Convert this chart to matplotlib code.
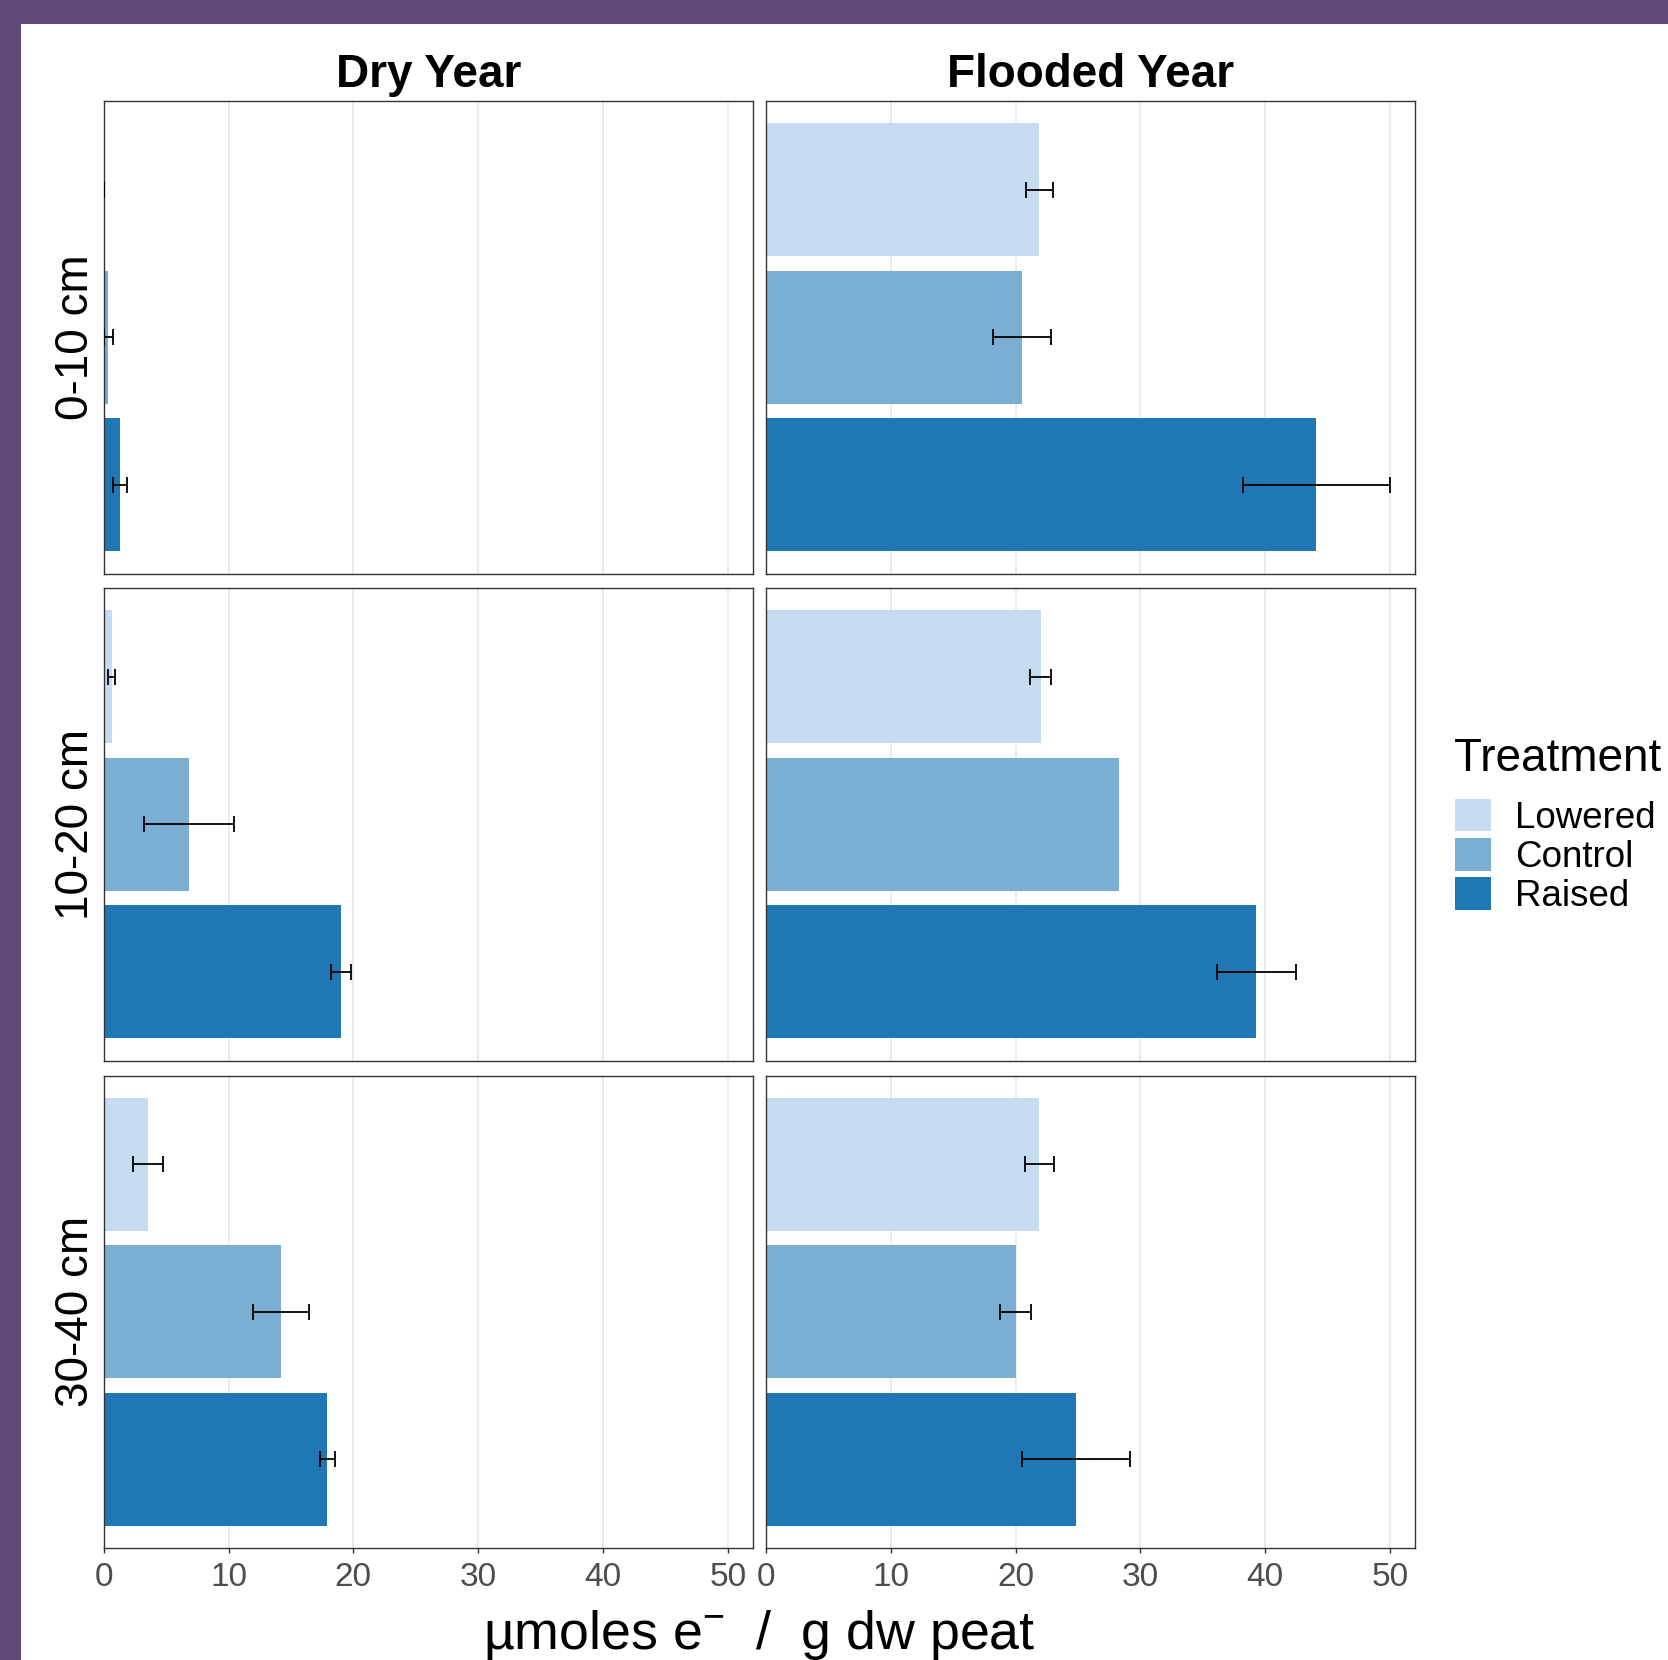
"""Electron-acceptor bars by depth, faceted by dry / flooded year."""

import matplotlib

matplotlib.use("Agg")

import matplotlib.pyplot as plt
import numpy as np
from matplotlib.patches import Patch, Rectangle

plt.rcParams["font.family"] = ["Liberation Sans", "DejaVu Sans"]
plt.rcParams["mathtext.fontset"] = "custom"
plt.rcParams["mathtext.rm"] = "Liberation Sans"
plt.rcParams["mathtext.default"] = "regular"

YEARS = ["Dry Year", "Flooded Year"]
DEPTHS = ["0-10 cm", "10-20 cm", "30-40 cm"]
TREATMENTS = ["Lowered", "Control", "Raised"]
COLORS = ["#c6dbef", "#7aaed3", "#1f78b4"]

# means / standard errors, rows = depth, cols = treatment
dry_mean = [[0.02, 0.37, 1.33], [0.64, 6.85, 19.0], [3.53, 14.2, 17.9]]
dry_se = [[0.02, 0.35, 0.55], [0.30, 3.60, 0.80], [1.20, 2.25, 0.60]]
flood_mean = [[21.9, 20.5, 44.1], [22.0, 28.3, 39.3], [21.9, 20.0, 24.85]]
flood_se = [[1.10, 2.30, 5.90], [0.85, np.nan, 3.15], [1.15, 1.25, 4.30]]

X_TICKS = [0, 10, 20, 30, 40, 50]
X_MAX = 52

W, H = 1668, 1660
fig = plt.figure(figsize=(W / 100, H / 100), dpi=100, facecolor="#5f4a7b")
fig.patches.append(Rectangle((21 / W, 0), 1, 1 - 24 / H, transform=fig.transFigure,
                             facecolor="white", edgecolor="none", zorder=-5))

col_x = [103.7 / W, 766 / W]
col_w = 649 / W
row_top = [101, 588, 1075.5]
row_h = 472.5

means = [dry_mean, flood_mean]
ses = [dry_se, flood_se]
ypos = np.arange(1, len(TREATMENTS) + 1)

for c, year in enumerate(YEARS):
    for r, depth in enumerate(DEPTHS):
        ax = fig.add_axes([col_x[c], 1 - (row_top[r] + row_h) / H, col_w, row_h / H])
        ax.barh(ypos, means[c][r], height=0.9, color=COLORS, zorder=2)
        ax.errorbar(means[c][r], ypos, xerr=ses[c][r], fmt="none", ecolor="black",
                    elinewidth=1.3, capsize=5.8, capthick=1.3, zorder=3)
        ax.set_xlim(0, X_MAX)
        ax.set_ylim(3.6, 0.4)
        ax.set_xticks(X_TICKS)
        ax.set_yticks([])
        ax.grid(axis="x", color="#e8e8e8", lw=1.2, zorder=0)
        ax.set_axisbelow(True)
        for s in ax.spines.values():
            s.set_color("#333333")
            s.set_linewidth(1.0)
        if r == len(DEPTHS) - 1:
            ax.tick_params(axis="x", length=3.6, width=1.0, color="#333333",
                           labelsize=24, labelcolor="#4d4d4d", pad=6.5)
        else:
            ax.tick_params(axis="x", length=0, labelbottom=False)
        if r == 0:
            ax.set_title(year, fontsize=33, fontweight="bold", pad=10)
        if c == 0:
            ax.set_ylabel(depth, fontsize=33, labelpad=4)

fig.text((103.7 + 1415) / 2 / W, 0.015, "µmoles e$^{-}$  /  g dw peat",
         ha="center", va="center", fontsize=38.7)

fig.text(1454 / W, 1 - 771 / H, "Treatment", ha="left", va="baseline", fontsize=33)
handles = [Patch(facecolor=col, edgecolor="none") for col in COLORS]
leg = fig.legend(handles, TREATMENTS, loc="upper left",
                 bbox_to_anchor=(1455 / W, 1 - 799 / H), frameon=False,
                 fontsize=26.5, handlelength=0.98, handleheight=0.98, handletextpad=0.65,
                 labelspacing=0.06, borderpad=0, borderaxespad=0)

fig.savefig("out.png", dpi=100, facecolor=fig.get_facecolor())
